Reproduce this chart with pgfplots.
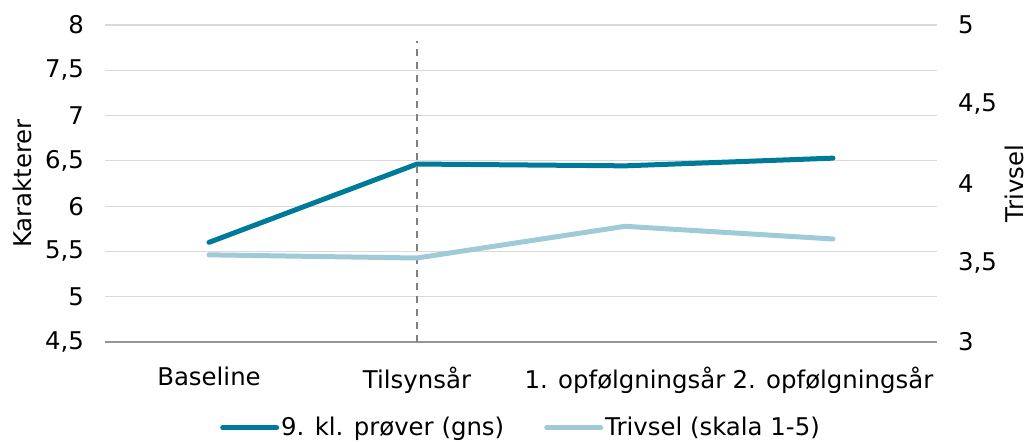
\documentclass[border=0pt]{standalone}
\usepackage{fontspec}
\setmainfont{DejaVu Sans}
\usepackage{pgfplots}
\pgfplotsset{compat=1.18}
\definecolor{dark}{RGB}{0,122,153}
\definecolor{light}{RGB}{158,203,215}
\definecolor{gridc}{RGB}{217,217,217}
\definecolor{axc}{RGB}{150,150,150}
\definecolor{dashc}{RGB}{128,128,128}
\newcommand{\fs}{\fontsize{12.2}{14}\selectfont}
\begin{document}
\begin{tikzpicture}
\useasboundingbox (-52.5pt,-49.5pt) rectangle (464pt,171pt);
\pgfplotsset{
  common/.style={
    scale only axis, width=416pt, height=158.5pt,
    xmin=-0.5, xmax=3.5,
    major tick length=0pt, tick style={draw=none},
    ticklabel style={font=\fs},
    /pgf/number format/.cd, use comma, assume math mode=true,
  }
}
\begin{axis}[common,
  ymin=4.5, ymax=8,
  ytick={4.5,5,5.5,6,6.5,7,7.5,8},
  xtick={0,1,2,3},
  xticklabels={Baseline,Tilsynsår,1. opfølgningsår,2. opfølgningsår},
  axis x line*=bottom, axis y line*=left,
  x axis line style={draw=axc, line width=0.7pt},
  y axis line style={draw=none},
  ymajorgrids, grid style={gridc, line width=0.6pt},
  yticklabel style={xshift=-7pt},
  xticklabel style={yshift=-9pt},
  ylabel={Karakterer},
  every axis y label/.style={at={(axis description cs:-0.0998,0.5)}, rotate=90, anchor=center, font=\fs},
  legend style={draw=none, fill=none, at={(0.5,-0.271)}, anchor=center,
    legend columns=2, font=\fs,
    /tikz/every even column/.append style={column sep=19pt},
    inner sep=0pt, nodes={inner xsep=1pt}},
  legend image code/.code={\draw[#1, line width=2.5pt, line cap=round] (0pt,0pt) -- (27pt,0pt);},
]
\addplot[dark, line width=2.5pt, line cap=round, line join=round] coordinates {(0,5.60) (1,6.465) (2,6.445) (3,6.53)};
\addlegendentry{9. kl. prøver (gns)}
\addlegendimage{light}
\addlegendentry{Trivsel (skala 1-5)}
\addplot[dashc, line width=1pt, dash pattern=on 3.5pt off 3pt, forget plot] coordinates {(1,4.5) (1,7.82)};
\end{axis}
\begin{axis}[common,
  ymin=3, ymax=5,
  ytick={3,3.5,4,4.5,5},
  axis x line=none, axis y line*=right,
  y axis line style={draw=none},
  yticklabel style={xshift=7pt},
  ylabel={Trivsel},
  every axis y label/.style={at={(axis description cs:1.0935,0.5)}, rotate=90, anchor=center, font=\fs},
]
\addplot[light, line width=2.5pt, line cap=round, line join=round] coordinates {(0,3.55) (1,3.53) (2,3.73) (3,3.65)};
\end{axis}
\end{tikzpicture}
\end{document}
